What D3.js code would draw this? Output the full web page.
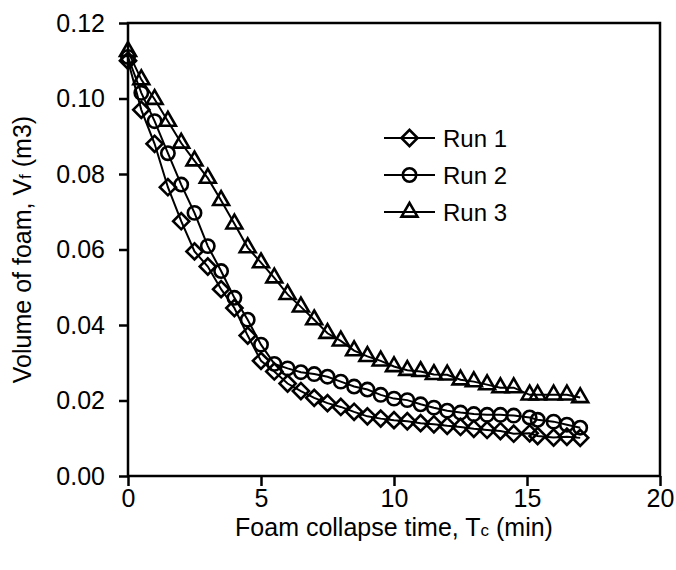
<!DOCTYPE html>
<html>
<head>
<meta charset="utf-8">
<script src="https://cdn.jsdelivr.net/npm/d3@7"></script>
<style>
  body { margin: 0; background: #fff; }
  text { font-family: Arial, "Liberation Sans", sans-serif; fill: #000; }
</style>
</head>
<body>
<div id="chart"></div>
<script>
const times = [0, 0.5, 1, 1.5, 2, 2.5, 3, 3.5, 4, 4.5, 5, 5.5, 6, 6.5, 7, 7.5, 8, 8.5,
  9, 9.5, 10, 10.5, 11, 11.5, 12, 12.5, 13, 13.5, 14, 14.5, 15.1, 15.4, 16, 16.5, 17];

const run1 = [0.110, 0.097, 0.088, 0.0765, 0.0675, 0.0595, 0.0555, 0.0495, 0.0445, 0.0372,
  0.0305, 0.0277, 0.0245, 0.0225, 0.0207, 0.0193, 0.0183, 0.017, 0.0158, 0.0152,
  0.0148, 0.0145, 0.014, 0.0137, 0.0133, 0.013, 0.0125, 0.0122, 0.0119, 0.0112,
  0.0113, 0.0106, 0.0102, 0.0104, 0.0101];

const run2 = [0.111, 0.1015, 0.094, 0.0855, 0.0772, 0.0697, 0.0609, 0.0543, 0.0472, 0.0414,
  0.0348, 0.0297, 0.0285, 0.0275, 0.027, 0.0263, 0.025, 0.0237, 0.0229, 0.0215,
  0.0205, 0.0201, 0.019, 0.0181, 0.0173, 0.0168, 0.0164, 0.0162, 0.0162, 0.016,
  0.0155, 0.0149, 0.0144, 0.0136, 0.0128];

const run3 = [0.1125, 0.105, 0.0998, 0.094, 0.0882, 0.0835, 0.0789, 0.073, 0.0668, 0.0605,
  0.0565, 0.0525, 0.0481, 0.0448, 0.0414, 0.0378, 0.0358, 0.0332, 0.0317, 0.0305,
  0.029, 0.028, 0.0277, 0.0269, 0.0268, 0.0255, 0.025, 0.0242, 0.0234, 0.0234,
  0.0215, 0.0215, 0.0215, 0.0215, 0.0208];

const seriesNames = ['Run 1', 'Run 2', 'Run 3'];
const xTicks = [0, 5, 10, 15, 20];
const yTicks = [0, 0.02, 0.04, 0.06, 0.08, 0.10, 0.12];

const attrs = obj => sel => {
  Object.keys(obj).forEach(k => sel.attr(k, obj[k]));
  return sel;
};

const margin = { top: 23, right: 16, bottom: 94, left: 128 };
const W = 676, H = 570;
const width = W - margin.left - margin.right;
const height = H - margin.top - margin.bottom;

const svg = d3.select('#chart').append('svg').call(attrs({ width: W, height: H }));
const g = svg.append('g').attr('transform', `translate(${margin.left},${margin.top})`);

const x = d3.scaleLinear().domain([0, 20]).range([0, width]);
const y = d3.scaleLinear().domain([0, 0.12]).range([height, 0]);

// frame
g.append('rect').call(attrs({ x: 0, y: 0, width, height, fill: 'none', stroke: '#000', 'stroke-width': 2.5 }));

// axes
const xAxis = g.append('g')
  .attr('transform', `translate(0,${height})`)
  .call(d3.axisBottom(x).tickValues(xTicks).tickSize(10).tickPadding(3).tickFormat(d3.format('d')));
const yAxis = g.append('g')
  .call(d3.axisLeft(y).tickValues(yTicks).tickSize(9).tickPadding(14).tickFormat(d3.format('.2f')));

[xAxis, yAxis].forEach(a => {
  a.select('.domain').remove();
  a.selectAll('line').attr('stroke', '#000').attr('stroke-width', 2.5);
  a.selectAll('text').attr('font-size', 25).attr('font-family', 'Arial, "Liberation Sans", sans-serif');
});

// axis titles
const xt = svg.append('text').call(attrs({ x: margin.left + width / 2, y: 536, 'text-anchor': 'middle', 'font-size': 25 }));
xt.append('tspan').text('Foam collapse time, T');
xt.append('tspan').attr('font-size', 17).text('c');
xt.append('tspan').text(' (min)');

const yt = svg.append('text').call(attrs({ transform: `translate(31,${margin.top + height / 2}) rotate(-90)`, 'text-anchor': 'middle', 'font-size': 25 }));
yt.append('tspan').text('Volume of foam, V');
yt.append('tspan').attr('font-size', 17).text('f');
yt.append('tspan').text(' (m3)');

// series
const shapes = [
  d3.symbol().type(d3.symbolSquare).size(130),
  d3.symbol().type(d3.symbolCircle).size(140),
  d3.symbol().type(d3.symbolTriangle).size(110),
];
const rotations = [45, 0, 0];

const series = [run1, run2, run3].map((vals, i) => ({
  name: seriesNames[i],
  points: vals.map((v, j) => ({ t: times[j], v })),
}));

const line = d3.line().x(d => x(d.t)).y(d => y(d.v));

series.forEach((s, i) => {
  g.append('path').datum(s.points).call(attrs({ d: line, fill: 'none', stroke: '#000', 'stroke-width': 2 }));
  g.selectAll(null).data(s.points).enter().append('path')
    .call(attrs({
      d: shapes[i],
      transform: d => `translate(${x(d.t)},${y(d.v)}) rotate(${rotations[i]})`,
      fill: 'none',
      stroke: '#000',
      'stroke-width': 2.6,
    }));
});

// legend
const legend = svg.append('g').attr('transform', 'translate(384,138)');
seriesNames.forEach((name, i) => {
  const row = legend.append('g').attr('transform', `translate(0,${i * 37})`);
  row.append('line').call(attrs({ x1: 0, x2: 51, y1: 0, y2: 0, stroke: '#000', 'stroke-width': 2 }));
  row.append('path').call(attrs({
    d: shapes[i],
    transform: `translate(25.5,0) rotate(${rotations[i]})`,
    fill: 'none', stroke: '#000', 'stroke-width': 2.6,
  }));
  row.append('text').call(attrs({ x: 59, y: 8.5, 'font-size': 24 })).text(name);
});
</script>
</body>
</html>
